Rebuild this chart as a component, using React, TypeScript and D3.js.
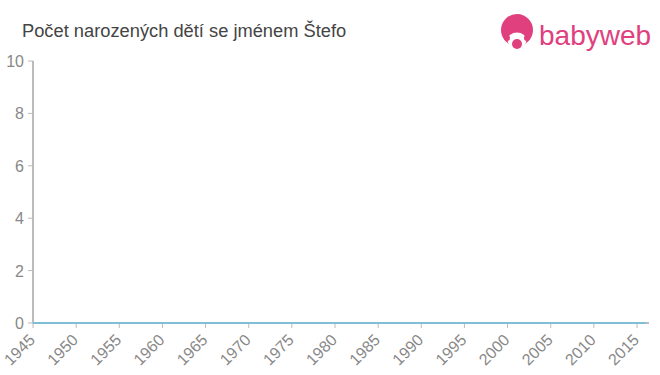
import React from "react";
import * as d3 from "d3";

const years: number[] = [];
for (let y = 1945; y <= 2016; y++) years.push(y);
const counts: number[] = years.map(() => 0);
const xTicks = [1945, 1950, 1955, 1960, 1965, 1970, 1975, 1980, 1985, 1990, 1995, 2000, 2005, 2010, 2015];
const yTicks = [0, 2, 4, 6, 8, 10];
const title = "Počet narozených dětí se jménem Štefo";

export default function App() {
  const W = 660, H = 375;
  const x = d3.scaleLinear().domain([1945, 2015]).range([33, 637]);
  const y = d3.scaleLinear().domain([0, 10]).range([323, 61]);
  const line = d3.line<number>().x((_, i) => x(years[i])).y((d) => y(d));
  const axisColor = "#bbbbbb";
  const labelColor = "#888888";
  const font = "'Liberation Sans', Arial, sans-serif";
  return (
    <svg width={W} height={H} style={{ position: "absolute", left: 0, top: 0 }} fontFamily={font}>
      <rect x={0} y={0} width={W} height={H} fill="#ffffff" />
      <text x={22} y={37} fontSize={18.3} fill="#444444">{title}</text>
      {/* logo */}
      <g>
        <circle cx={517} cy={30} r={16} fill="#e0407e" />
        <ellipse cx={517} cy={40} rx={9.5} ry={7.5} fill="#ffffff" />
        <circle cx={517} cy={44} r={5} fill="#e0407e" />
        <circle cx={507} cy={38} r={3} fill="#e0407e" />
        <circle cx={527} cy={38} r={3} fill="#e0407e" />
        <text x={539} y={45} fontSize={28} fill="#e0407e">babyweb</text>
      </g>
      {/* y axis */}
      <line x1={33} x2={33} y1={61} y2={323} stroke={axisColor} strokeWidth={2} />
      {yTicks.map((t) => (
        <g key={t}>
          <line x1={28} x2={33} y1={y(t)} y2={y(t)} stroke={axisColor} strokeWidth={1} />
          <text x={24} y={y(t) + 6} fontSize={16} fill={labelColor} textAnchor="end">{t}</text>
        </g>
      ))}
      {/* x axis */}
      <line x1={33} x2={649} y1={323} y2={323} stroke={axisColor} strokeWidth={2} />
      {xTicks.map((t) => (
        <g key={t}>
          <line x1={x(t)} x2={x(t)} y1={323} y2={328} stroke={axisColor} strokeWidth={1} />
          <text
            transform={`translate(${x(t) + 3},${341}) rotate(-45)`}
            fontSize={16}
            fill={labelColor}
            textAnchor="end"
          >
            {t}
          </text>
        </g>
      ))}
      <path d={line(counts) || ""} fill="none" stroke="#7fbfd6" strokeWidth={2} />
    </svg>
  );
}
